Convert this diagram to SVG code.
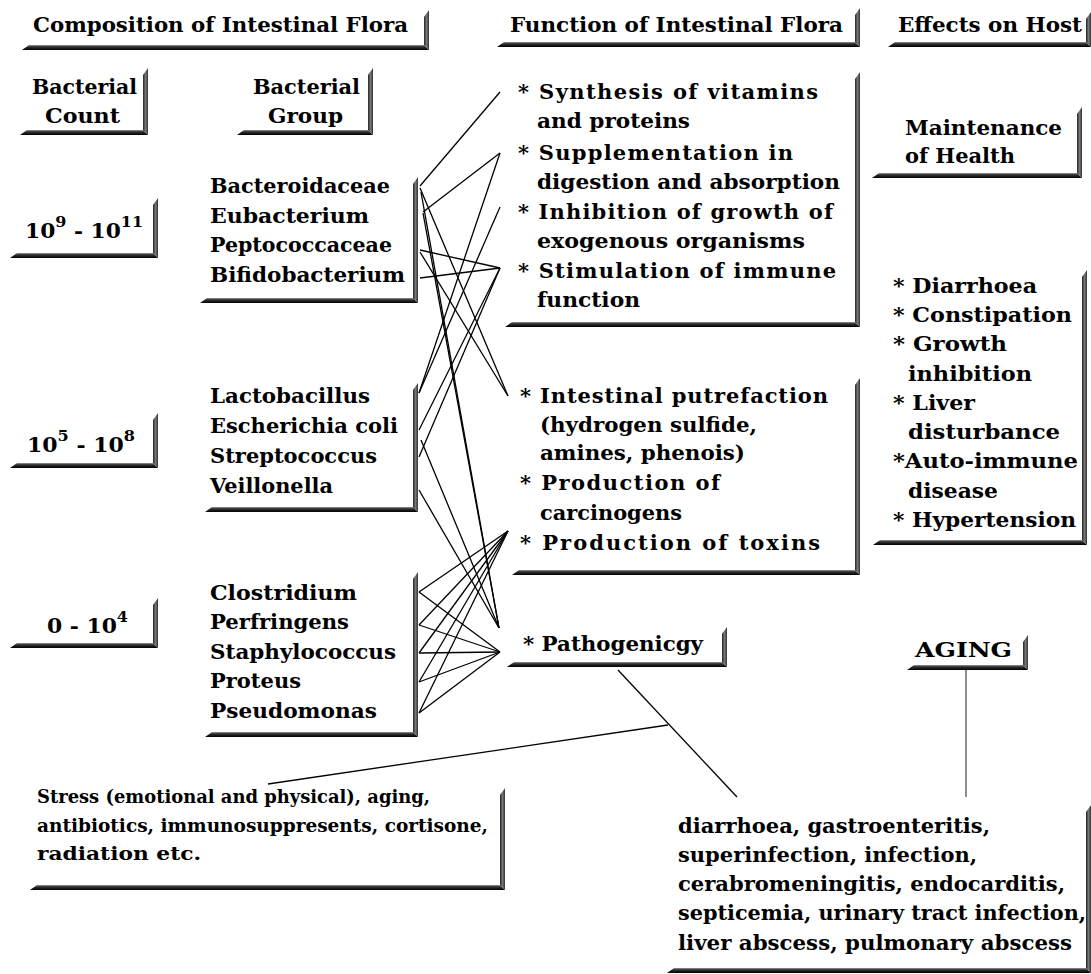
<svg xmlns="http://www.w3.org/2000/svg" width="1091" height="974" viewBox="0 0 1091 974">
<defs>
<linearGradient id="gb" x1="0" y1="0" x2="0" y2="1"><stop offset="0" stop-color="#999"/><stop offset="0.35" stop-color="#333"/><stop offset="1" stop-color="#000"/></linearGradient>
<linearGradient id="gr" x1="0" y1="0" x2="1" y2="0"><stop offset="0" stop-color="#222"/><stop offset="0.5" stop-color="#777"/><stop offset="1" stop-color="#333"/></linearGradient>
<style>
.t{font-family:"DejaVu Serif","Liberation Serif",serif;font-weight:bold;font-size:20.5px;fill:#000}
.f{font-size:21px}
.m{font-size:18px}
.b{fill:url(#gb)}
.r{fill:url(#gr)}
.c{stroke:#000;stroke-width:1.3;fill:none}
.s{font-size:15px}
</style>
</defs>
<rect width="1091" height="974" fill="#fff"/>

<g id="h1">
<path class="b" d="M22 50L29 45H424L429 50Z"/><path class="r" d="M424 45V17L429 10V50Z"/>
<text class="t" x="33" y="32" textLength="375" lengthAdjust="spacingAndGlyphs">Composition of Intestinal Flora</text>
</g>
<g id="h2">
<path class="b" d="M497 47L504 42H855L860 47Z"/><path class="r" d="M855 42V15L860 8V47Z"/>
<text class="t" x="510" y="32" textLength="333" lengthAdjust="spacingAndGlyphs">Function of Intestinal Flora</text>
</g>
<g id="h3">
<path class="b" d="M888 47L895 42H1086L1091 47Z"/><path class="r" d="M1086 42V19L1091 12V47Z"/>
<text class="t" x="898" y="32" textLength="184" lengthAdjust="spacingAndGlyphs">Effects on Host</text>
</g>
<g id="countLabel">
<path class="b" d="M20 135L27 130H143L148 135Z"/><path class="r" d="M143 130V75L148 68V135Z"/>
<text class="t" x="32" y="94" textLength="105" lengthAdjust="spacingAndGlyphs">Bacterial</text>
<text class="t" x="45" y="123" textLength="75" lengthAdjust="spacingAndGlyphs">Count</text>
</g>
<g id="groupLabel">
<path class="b" d="M237 135L244 130H368L373 135Z"/><path class="r" d="M368 130V75L373 68V135Z"/>
<text class="t" x="253" y="94" textLength="107" lengthAdjust="spacingAndGlyphs">Bacterial</text>
<text class="t" x="268" y="123" textLength="75" lengthAdjust="spacingAndGlyphs">Group</text>
</g>
<g id="maintenance">
<path class="b" d="M872 178L879 173H1077L1082 178Z"/><path class="r" d="M1077 173V114L1082 107V178Z"/>
<text class="t" x="905" y="135" textLength="157" lengthAdjust="spacingAndGlyphs">Maintenance</text>
<text class="t" x="905" y="163" textLength="110" lengthAdjust="spacingAndGlyphs">of Health</text>
</g>
<g id="count1">
<path class="b" d="M10 258L17 253H153L158 258Z"/><path class="r" d="M153 253V205L158 198V258Z"/>
<text class="t" x="25" y="238" textLength="118" lengthAdjust="spacingAndGlyphs">10<tspan class="s" dy="-11">9</tspan><tspan dy="11"> - 10</tspan><tspan class="s" dy="-11">11</tspan></text>
</g>
<g id="count2">
<path class="b" d="M10 468L17 463H153L158 468Z"/><path class="r" d="M153 463V420L158 413V468Z"/>
<text class="t" x="27" y="452" textLength="108" lengthAdjust="spacingAndGlyphs">10<tspan class="s" dy="-11">5</tspan><tspan dy="11"> - 10</tspan><tspan class="s" dy="-11">8</tspan></text>
</g>
<g id="count3">
<path class="b" d="M10 648L17 643H153L158 648Z"/><path class="r" d="M153 643V605L158 598V648Z"/>
<text class="t" x="47" y="633" textLength="81" lengthAdjust="spacingAndGlyphs">0 - 10<tspan class="s" dy="-11">4</tspan></text>
</g>
<g id="group1">
<path class="b" d="M200 303L207 298H413L418 303Z"/><path class="r" d="M413 298V184L418 177V303Z"/>
<text class="t" x="210" y="193" textLength="180" lengthAdjust="spacingAndGlyphs">Bacteroidaceae</text>
<text class="t" x="210" y="223" textLength="159" lengthAdjust="spacingAndGlyphs">Eubacterium</text>
<text class="t" x="210" y="252" textLength="182" lengthAdjust="spacingAndGlyphs">Peptococcaceae</text>
<text class="t" x="210" y="282" textLength="195" lengthAdjust="spacingAndGlyphs">Bifidobacterium</text>
</g>
<g id="group2">
<path class="b" d="M205 512L212 507H413L418 512Z"/><path class="r" d="M413 507V390L418 383V512Z"/>
<text class="t" x="210" y="403" textLength="160" lengthAdjust="spacingAndGlyphs">Lactobacillus</text>
<text class="t" x="210" y="433" textLength="188" lengthAdjust="spacingAndGlyphs">Escherichia coli</text>
<text class="t" x="210" y="463" textLength="167" lengthAdjust="spacingAndGlyphs">Streptococcus</text>
<text class="t" x="210" y="493" textLength="123" lengthAdjust="spacingAndGlyphs">Veillonella</text>
</g>
<g id="group3">
<path class="b" d="M205 737L212 732H413L418 737Z"/><path class="r" d="M413 732V579L418 572V737Z"/>
<text class="t" x="210" y="600" textLength="147" lengthAdjust="spacingAndGlyphs">Clostridium</text>
<text class="t" x="210" y="629" textLength="139" lengthAdjust="spacingAndGlyphs">Perfringens</text>
<text class="t" x="210" y="659" textLength="186" lengthAdjust="spacingAndGlyphs">Staphylococcus</text>
<text class="t" x="210" y="688" textLength="91" lengthAdjust="spacingAndGlyphs">Proteus</text>
<text class="t" x="210" y="718" textLength="167" lengthAdjust="spacingAndGlyphs">Pseudomonas</text>
</g>
<g id="func1">
<path class="b" d="M505 327L512 322H855L860 327Z"/><path class="r" d="M855 322V79L860 72V327Z"/>
<text class="t f" x="518" y="99" textLength="300" lengthAdjust="spacing">* Synthesis of vitamins</text>
<text class="t" x="537" y="128" textLength="153" lengthAdjust="spacingAndGlyphs">and proteins</text>
<text class="t f" x="518" y="160" textLength="275" lengthAdjust="spacing">* Supplementation in</text>
<text class="t" x="537" y="189" textLength="303" lengthAdjust="spacingAndGlyphs">digestion and absorption</text>
<text class="t f" x="518" y="219" textLength="315" lengthAdjust="spacing">* Inhibition of growth of</text>
<text class="t" x="537" y="248" textLength="268" lengthAdjust="spacingAndGlyphs">exogenous organisms</text>
<text class="t f" x="518" y="278" textLength="318" lengthAdjust="spacing">* Stimulation of immune</text>
<text class="t" x="537" y="307" textLength="103" lengthAdjust="spacingAndGlyphs">function</text>
</g>
<g id="func2">
<path class="b" d="M512 575L519 570H855L860 575Z"/><path class="r" d="M855 570V385L860 378V575Z"/>
<text class="t f" x="520" y="403" textLength="308" lengthAdjust="spacing">* Intestinal putrefaction</text>
<text class="t" x="540" y="432" textLength="217" lengthAdjust="spacingAndGlyphs">(hydrogen sulfide,</text>
<text class="t" x="540" y="460" textLength="205" lengthAdjust="spacingAndGlyphs">amines, phenois)</text>
<text class="t f" x="520" y="490" textLength="200" lengthAdjust="spacing">* Production of</text>
<text class="t" x="540" y="520" textLength="142" lengthAdjust="spacingAndGlyphs">carcinogens</text>
<text class="t f" x="520" y="550" textLength="300" lengthAdjust="spacing">* Production of toxins</text>
</g>
<g id="func3">
<path class="b" d="M507 667L514 662H722L727 667Z"/><path class="r" d="M722 662V634L727 627V667Z"/>
<text class="t" x="523" y="651" textLength="180" lengthAdjust="spacingAndGlyphs">* Pathogenicgy</text>
</g>
<g id="effects">
<path class="b" d="M873 545L880 540H1082L1087 545Z"/><path class="r" d="M1082 540V277L1087 270V545Z"/>
<text class="t" x="893" y="293" textLength="144" lengthAdjust="spacingAndGlyphs">* Diarrhoea</text>
<text class="t" x="893" y="322" textLength="179" lengthAdjust="spacingAndGlyphs">* Constipation</text>
<text class="t" x="893" y="351" textLength="114" lengthAdjust="spacingAndGlyphs">* Growth</text>
<text class="t" x="908" y="381" textLength="124" lengthAdjust="spacingAndGlyphs">inhibition</text>
<text class="t" x="893" y="410" textLength="82" lengthAdjust="spacingAndGlyphs">* Liver</text>
<text class="t" x="908" y="439" textLength="152" lengthAdjust="spacingAndGlyphs">disturbance</text>
<text class="t" x="893" y="468" textLength="185" lengthAdjust="spacingAndGlyphs">*Auto-immune</text>
<text class="t" x="908" y="498" textLength="90" lengthAdjust="spacingAndGlyphs">disease</text>
<text class="t" x="893" y="527" textLength="183" lengthAdjust="spacingAndGlyphs">* Hypertension</text>
</g>
<g id="aging">
<path class="b" d="M907 670L914 665H1023L1028 670Z"/><path class="r" d="M1023 665V642L1028 635V670Z"/>
<text class="t" x="915" y="657" textLength="97" lengthAdjust="spacingAndGlyphs">AGING</text>
</g>
<g id="stress">
<path class="b" d="M30 890L37 885H500L505 890Z"/><path class="r" d="M500 885V795L505 788V890Z"/>
<text class="t m" x="37" y="803" textLength="393" lengthAdjust="spacingAndGlyphs">Stress (emotional and physical), aging,</text>
<text class="t m" x="37" y="832" textLength="451" lengthAdjust="spacingAndGlyphs">antibiotics, immunosuppresents, cortisone,</text>
<text class="t m" x="37" y="860" textLength="164" lengthAdjust="spacingAndGlyphs">radiation etc.</text>
</g>
<g id="diseases">
<path class="b" d="M667 973L674 968H1086L1091 973Z"/><path class="r" d="M1086 968V812L1091 805V973Z"/>
<text class="t" x="678" y="833" textLength="312" lengthAdjust="spacingAndGlyphs">diarrhoea, gastroenteritis,</text>
<text class="t" x="678" y="862" textLength="299" lengthAdjust="spacingAndGlyphs">superinfection, infection,</text>
<text class="t" x="678" y="891" textLength="387" lengthAdjust="spacingAndGlyphs">cerabromeningitis, endocarditis,</text>
<text class="t" x="678" y="920" textLength="408" lengthAdjust="spacingAndGlyphs">septicemia, urinary tract infection,</text>
<text class="t" x="678" y="950" textLength="394" lengthAdjust="spacingAndGlyphs">liver abscess, pulmonary abscess</text>
</g>

<g id="connectors" class="c">
<line x1="420" y1="186" x2="500" y2="92"/>
<line x1="420" y1="188" x2="508" y2="396"/>
<line x1="421" y1="192" x2="499" y2="628"/>
<line x1="423" y1="212" x2="500" y2="153"/>
<line x1="423" y1="213" x2="499" y2="628"/>
<line x1="420" y1="250" x2="500" y2="268"/>
<line x1="420" y1="252" x2="508" y2="396"/>
<line x1="420" y1="278" x2="500" y2="268"/>
<line x1="419" y1="393" x2="500" y2="153"/>
<line x1="419" y1="393" x2="500" y2="207"/>
<line x1="419" y1="430" x2="500" y2="268"/>
<line x1="421" y1="440" x2="499" y2="628"/>
<line x1="419" y1="457" x2="500" y2="268"/>
<line x1="419" y1="490" x2="499" y2="628"/>
<line x1="419" y1="592" x2="508" y2="531"/>
<line x1="419" y1="592" x2="500" y2="652"/>
<line x1="419" y1="625" x2="508" y2="531"/>
<line x1="419" y1="625" x2="500" y2="652"/>
<line x1="419" y1="653" x2="508" y2="531"/>
<line x1="419" y1="653" x2="500" y2="652"/>
<line x1="419" y1="682" x2="508" y2="531"/>
<line x1="419" y1="682" x2="500" y2="652"/>
<line x1="419" y1="713" x2="508" y2="531"/>
<line x1="419" y1="713" x2="500" y2="652"/>
<line x1="268" y1="784" x2="668" y2="725"/>
<line x1="618" y1="670" x2="737" y2="797"/>
<line x1="966" y1="670" x2="966" y2="797" stroke="#444" stroke-width="1.2"/>
</g>
</svg>
